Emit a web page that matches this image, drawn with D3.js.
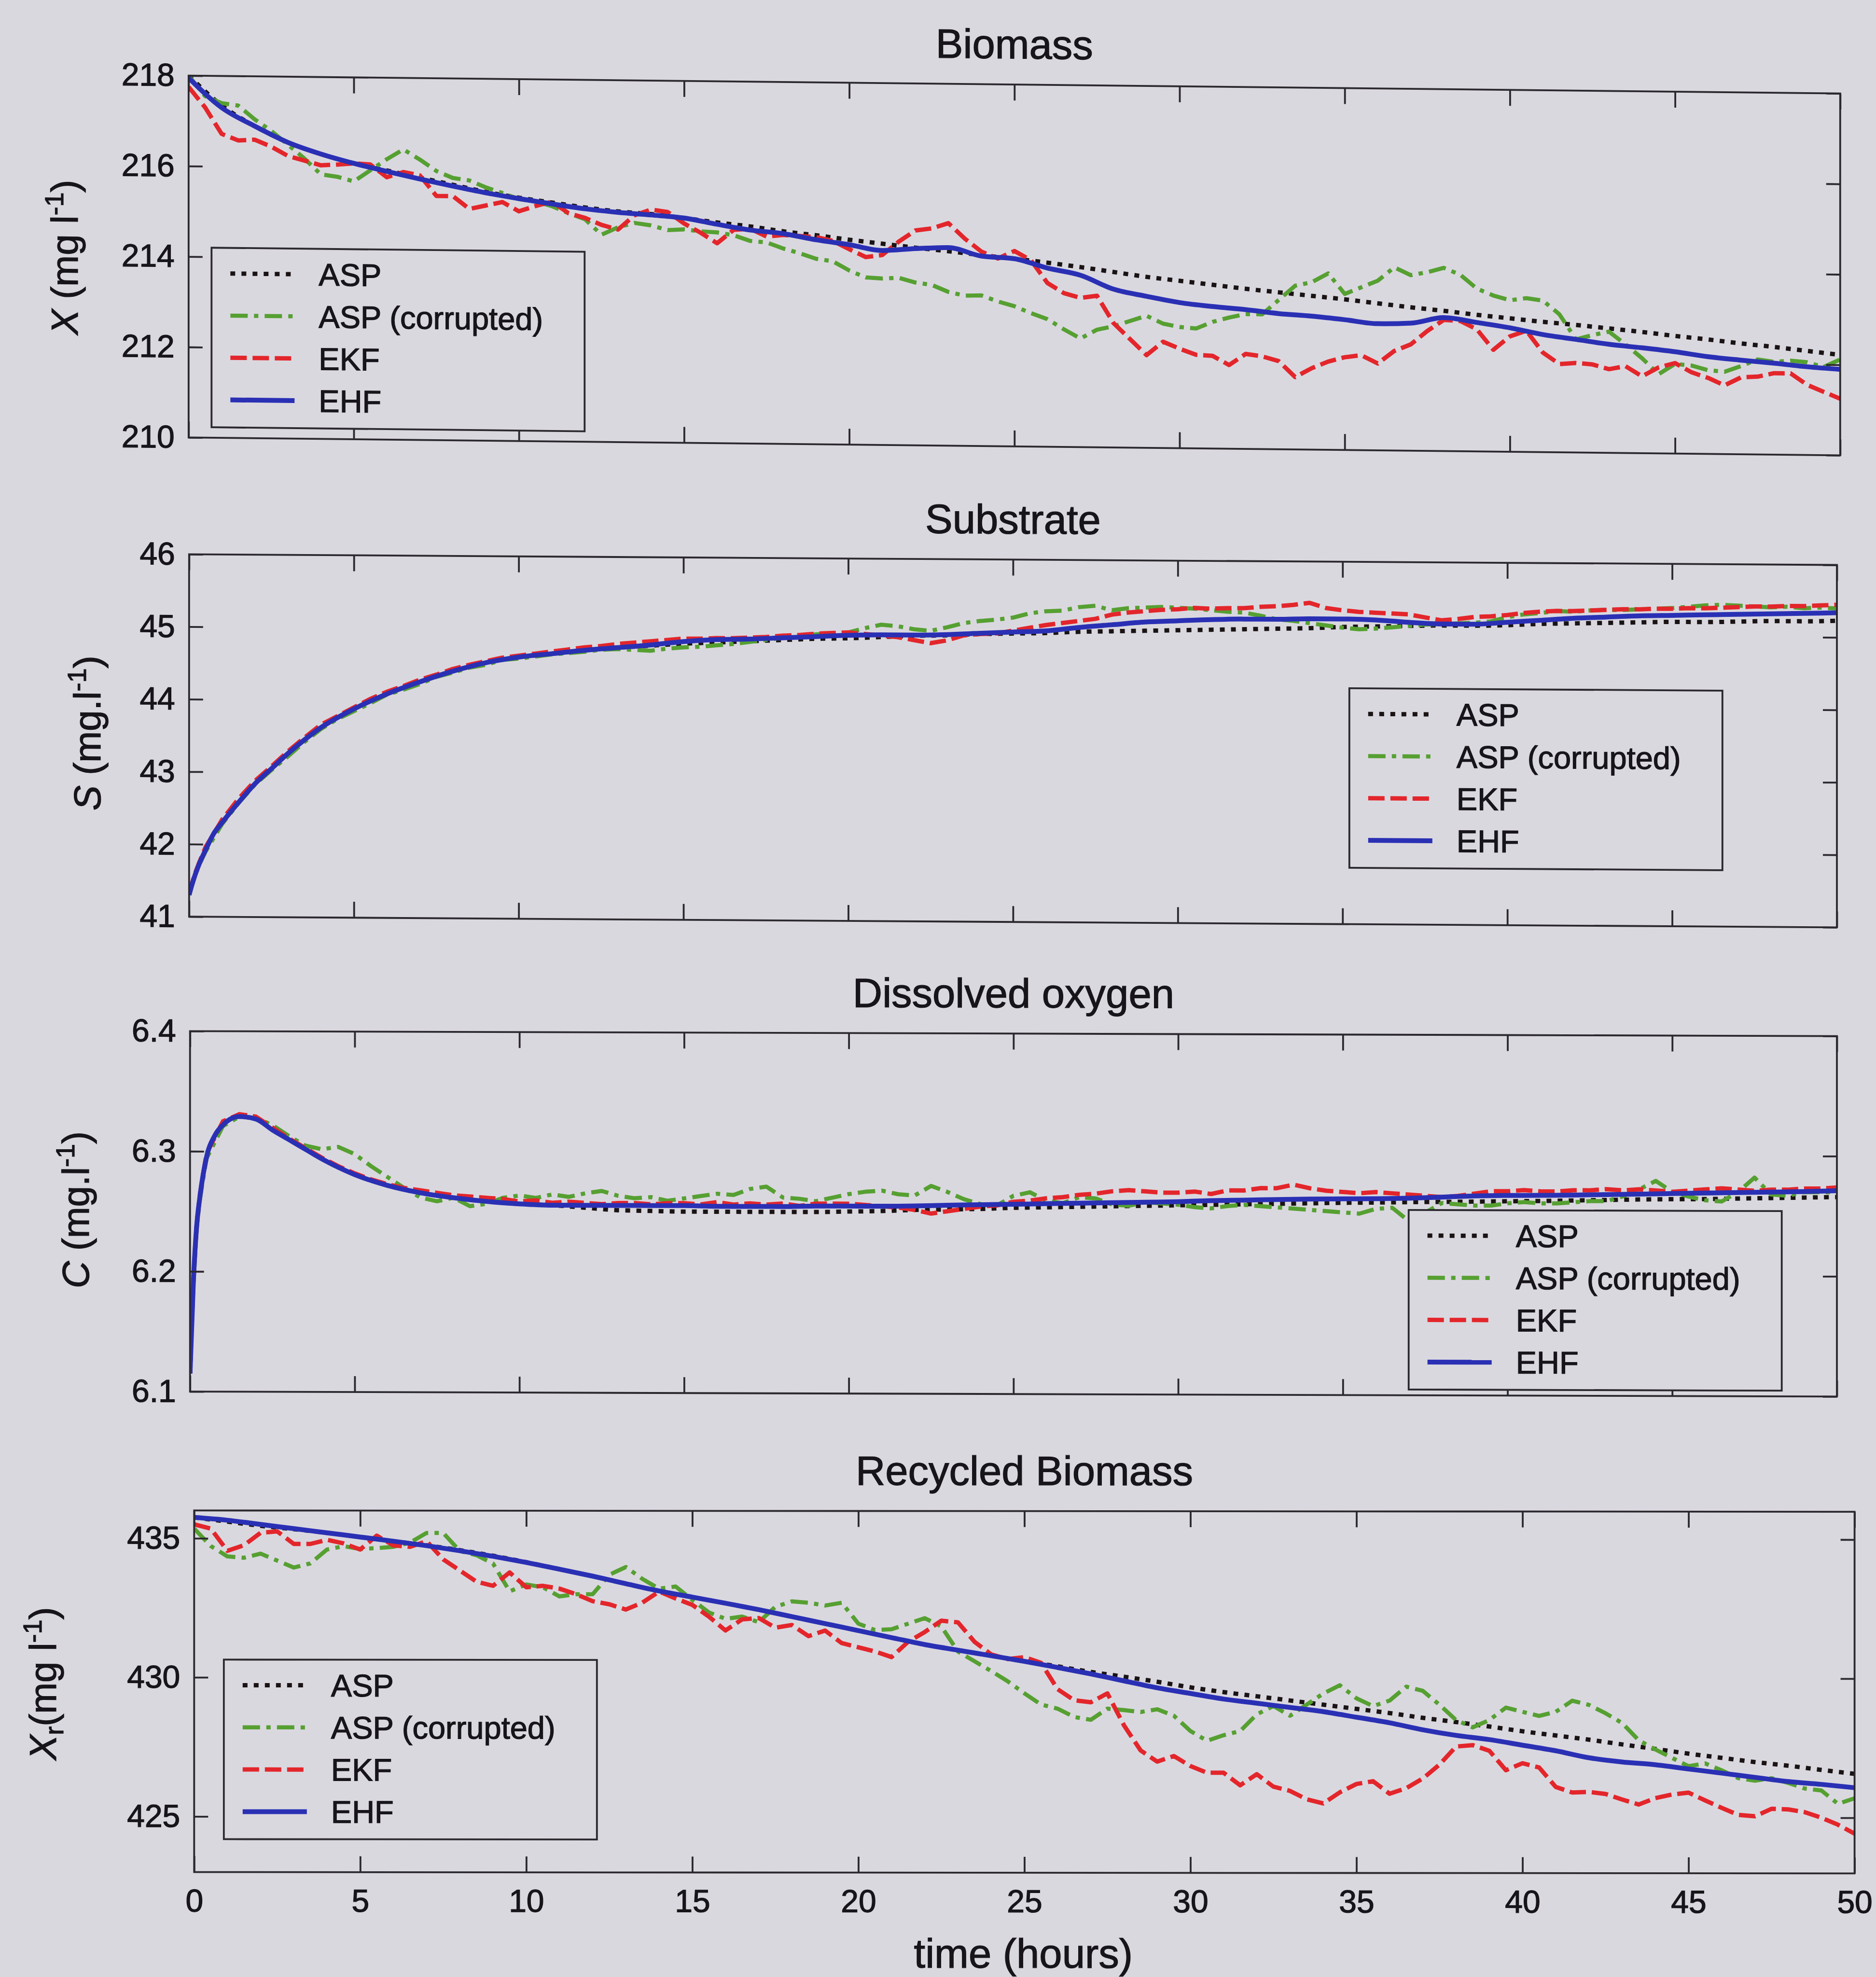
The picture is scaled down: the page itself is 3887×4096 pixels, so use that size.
<!DOCTYPE html>
<html>
<head>
<meta charset="utf-8">
<title>ASP state estimation</title>
<script src="https://cdn.jsdelivr.net/npm/d3@7"></script>
<style>
  html, body { margin: 0; padding: 0; background: #dad8df; }
  svg { display: block; }
  text { font-family: "Liberation Sans", Arial, Helvetica, sans-serif; fill: #171519; stroke: #171519; stroke-width: 1.3px; }
</style>
</head>
<body>
<script>
//time grids (hours)
var tHour = d3.range(0, 51, 1);
var tHalf = d3.range(0, 50.5, 0.5);
var tFine = [0, 0.1, 0.2, 0.3, 0.5, 0.75, 1, 1.5, 2, 2.5, 3, 3.5, 4].concat(d3.range(5, 51, 1));
var tStart = [0, 0.1, 0.2, 0.3].concat(d3.range(0.5, 50.5, 0.5));

var xTicks = [0, 5, 10, 15, 20, 25, 30, 35, 40, 45, 50];
var seriesNames = ["ASP", "ASP (corrupted)", "EKF", "EHF"];
var titles = ["Biomass", "Substrate", "Dissolved oxygen", "Recycled Biomass"];

//biomass X (mg/l)
var biomassTicks = [210, 212, 214, 216, 218];
var biomassASP = [218.0, 217.35, 216.9, 216.55, 216.3, 216.1, 215.95, 215.8, 215.65, 215.5, 215.38,
  215.28, 215.18, 215.1, 215.05, 214.97, 214.88, 214.8, 214.7, 214.62, 214.53,
  214.45, 214.37, 214.3, 214.22, 214.15, 214.07, 213.98, 213.88, 213.78, 213.7,
  213.62, 213.54, 213.47, 213.4, 213.33, 213.25, 213.17, 213.1, 213.02, 212.95,
  212.88, 212.82, 212.75, 212.68, 212.6, 212.53, 212.45, 212.38, 212.3, 212.22];
var biomassCorrupted = [218.0, 217.55, 217.4, 217.35, 217.05, 216.8, 216.5, 216.2, 215.85, 215.8,
  215.7, 215.95, 216.2, 216.42, 216.2, 215.95, 215.8, 215.75, 215.6, 215.48,
  215.35, 215.3, 215.2, 215.05, 214.92, 214.58, 214.75, 214.85, 214.8, 214.7,
  214.72, 214.68, 214.66, 214.6, 214.48, 214.45, 214.32, 214.22, 214.1, 214.05,
  213.85, 213.7, 213.68, 213.7, 213.6, 213.55, 213.4, 213.32, 213.33, 213.2,
  213.1, 212.95, 212.82, 212.6, 212.4, 212.6, 212.68, 212.8, 212.92, 212.75,
  212.68, 212.65, 212.8, 212.9, 212.98, 212.98, 213.3, 213.62, 213.7, 213.9,
  213.45, 213.6, 213.75, 214.05, 213.88, 213.95, 214.05, 213.9, 213.6, 213.45,
  213.35, 213.4, 213.35, 213.05, 212.5, 212.6, 212.68, 212.4, 212.1, 211.75,
  211.98, 211.95, 211.85, 211.82, 211.95, 212.1, 212.05, 212.08, 212.05, 211.95, 212.12];
var biomassEKF = [217.75, 217.3, 216.72, 216.58, 216.6, 216.45, 216.25, 216.15, 216.05, 216.07,
  216.1, 216.08, 215.8, 215.92, 215.85, 215.4, 215.4, 215.12, 215.2, 215.28,
  215.08, 215.2, 215.3, 215.05, 214.95, 214.8, 214.7, 215.02, 215.15, 215.1,
  214.85, 214.65, 214.42, 214.72, 214.75, 214.58, 214.62, 214.6, 214.58, 214.5,
  214.32, 214.15, 214.2, 214.5, 214.75, 214.8, 214.92, 214.58, 214.3, 214.15,
  214.32, 214.12, 213.62, 213.4, 213.3, 213.35, 212.75, 212.4, 212.05, 212.35,
  212.2, 212.07, 212.05, 211.85, 212.1, 212.05, 211.95, 211.6, 211.8, 211.95,
  212.05, 212.1, 211.92, 212.2, 212.35, 212.65, 212.9, 212.88, 212.7, 212.25,
  212.55, 212.68, 212.2, 211.95, 211.98, 211.95, 211.85, 211.92, 211.7, 211.9,
  212.0, 211.8, 211.68, 211.52, 211.7, 211.72, 211.8, 211.8, 211.55, 211.4, 211.25];
var biomassEHF = [217.95, 217.3, 216.9, 216.55, 216.3, 216.1, 215.93, 215.77, 215.62, 215.48, 215.36,
  215.25, 215.15, 215.08, 215.03, 214.97, 214.84, 214.72, 214.65, 214.52, 214.42,
  214.3, 214.35, 214.38, 214.2, 214.15, 213.95, 213.8, 213.5, 213.35, 213.22,
  213.14, 213.08, 213.0, 212.95, 212.88, 212.8, 212.82, 212.95, 212.85, 212.74,
  212.6, 212.5, 212.4, 212.33, 212.25, 212.15, 212.08, 212.02, 211.95, 211.9];

//substrate S (mg/l)
var substrateTicks = [41, 42, 43, 44, 45, 46];
var substrateASP = [41.3, 41.46, 41.6, 41.72, 41.92, 42.15, 42.3, 42.58, 42.84, 43.05, 43.26, 43.45, 43.62,
  43.88, 44.09, 44.26, 44.41, 44.53, 44.61, 44.66, 44.71, 44.75, 44.78,
  44.81, 44.83, 44.85, 44.87, 44.89, 44.9, 44.92, 44.94, 44.95, 44.97,
  44.98, 44.99, 45.01, 45.02, 45.03, 45.04, 45.05, 45.06, 45.07, 45.08,
  45.1, 45.11, 45.12, 45.13, 45.13, 45.14, 45.16, 45.17, 45.18, 45.19,
  45.2, 45.2, 45.21, 45.22, 45.22, 45.23];
var substrateCorrupted = [41.3, 41.45, 41.59, 41.71, 41.9, 42.28, 42.57, 42.83, 43.03, 43.22, 43.42, 43.6, 43.74,
  43.85, 43.96, 44.08, 44.15, 44.23, 44.33, 44.39, 44.46, 44.5, 44.57, 44.59, 44.62, 44.65, 44.67, 44.69, 44.72,
  44.73, 44.72, 44.71, 44.74, 44.76, 44.77, 44.79, 44.81, 44.84, 44.87,
  44.9, 44.93, 44.95, 44.97, 44.98, 45.04, 45.09, 45.07, 45.03, 45.01,
  45.06, 45.12, 45.15, 45.17, 45.2, 45.26, 45.29, 45.3, 45.35, 45.37,
  45.31, 45.34, 45.35, 45.36, 45.35, 45.34, 45.32, 45.3, 45.29, 45.25,
  45.2, 45.18, 45.15, 45.12, 45.09, 45.07, 45.08, 45.1, 45.12, 45.14,
  45.15, 45.16, 45.17, 45.19, 45.25, 45.29, 45.31, 45.34, 45.33, 45.35,
  45.36, 45.36, 45.37, 45.38, 45.39, 45.41, 45.43, 45.44, 45.43, 45.42,
  45.41, 45.42, 45.4, 45.41, 45.4];
var substrateEKF = [41.32, 41.48, 41.62, 41.74, 41.96, 42.34, 42.63, 42.88, 43.08, 43.29, 43.48, 43.66, 43.78,
  43.9, 44.02, 44.12, 44.2, 44.29, 44.36, 44.44, 44.5, 44.55, 44.6, 44.63, 44.66, 44.69, 44.72, 44.75,
  44.77, 44.8, 44.82, 44.84, 44.86, 44.88, 44.88, 44.89, 44.89, 44.9,
  44.91, 44.93, 44.94, 44.96, 44.97, 44.98, 44.96, 44.94, 44.92, 44.88,
  44.84, 44.88, 44.95, 44.97, 44.98, 45.02, 45.06, 45.1, 45.13, 45.16,
  45.19, 45.25, 45.28, 45.3, 45.32, 45.33, 45.35, 45.34, 45.35, 45.35,
  45.37, 45.38, 45.4, 45.43, 45.36, 45.33, 45.31, 45.3, 45.29, 45.28,
  45.24, 45.2, 45.22, 45.25, 45.26, 45.28, 45.31, 45.33, 45.34, 45.34,
  45.35, 45.36, 45.37, 45.37, 45.38, 45.38, 45.39, 45.39, 45.4, 45.41,
  45.42, 45.42, 45.43, 45.43, 45.44, 45.45];
var substrateEHF = [41.3, 41.46, 41.6, 41.72, 41.92, 42.15, 42.3, 42.58, 42.84, 43.05, 43.26, 43.45, 43.62,
  43.88, 44.09, 44.26, 44.41, 44.53, 44.61, 44.66, 44.71, 44.75, 44.79,
  44.84, 44.87, 44.88, 44.9, 44.92, 44.94, 44.95, 44.95, 44.96, 44.98,
  45.0, 45.02, 45.07, 45.11, 45.15, 45.17, 45.19, 45.2, 45.2, 45.21,
  45.21, 45.2, 45.17, 45.15, 45.15, 45.18, 45.21, 45.24, 45.26, 45.28,
  45.29, 45.3, 45.31, 45.32, 45.33, 45.34];

//dissolved oxygen C (mg/l)
var oxygenTicks = [6.1, 6.2, 6.3, 6.4];
var oxygenASP = [6.115, 6.19, 6.237, 6.262, 6.295, 6.313, 6.322, 6.329, 6.327, 6.318, 6.31, 6.302, 6.294,
  6.281, 6.272, 6.266, 6.262, 6.259, 6.257, 6.256, 6.254, 6.252, 6.2515,
  6.251, 6.251, 6.251, 6.251, 6.251, 6.2515, 6.252, 6.253, 6.2535, 6.254,
  6.255, 6.2555, 6.256, 6.2565, 6.257, 6.2575, 6.258, 6.2585, 6.259, 6.2595,
  6.26, 6.2603, 6.2607, 6.261, 6.2613, 6.2617, 6.262, 6.2625, 6.263, 6.2635,
  6.2638, 6.264, 6.2645, 6.265, 6.2655, 6.266];
var oxygenCorrupted = [6.115, 6.188, 6.235, 6.26, 6.294, 6.321, 6.329, 6.328, 6.322, 6.313, 6.305, 6.302, 6.304,
  6.298, 6.288, 6.279, 6.27, 6.262, 6.259, 6.262, 6.255, 6.257, 6.262,
  6.264, 6.262, 6.265, 6.263, 6.266, 6.268, 6.264, 6.262, 6.263, 6.26,
  6.262, 6.264, 6.266, 6.265, 6.27, 6.272, 6.263, 6.262, 6.26, 6.263,
  6.266, 6.268, 6.269, 6.266, 6.265, 6.273, 6.268, 6.262, 6.258, 6.257,
  6.265, 6.268, 6.261, 6.259, 6.264, 6.263, 6.258, 6.257, 6.26, 6.259,
  6.258, 6.256, 6.255, 6.257, 6.258, 6.257, 6.256, 6.255, 6.254, 6.253,
  6.252, 6.251, 6.255, 6.256, 6.245, 6.252, 6.26, 6.259, 6.258, 6.258,
  6.26, 6.261, 6.26, 6.26, 6.261, 6.262, 6.262, 6.266, 6.272, 6.279,
  6.27, 6.266, 6.263, 6.262, 6.27, 6.282, 6.268, 6.267, 6.27, 6.27, 6.27];
var oxygenEKF = [6.115, 6.19, 6.238, 6.264, 6.298, 6.325, 6.331, 6.329, 6.32, 6.311, 6.303, 6.295, 6.288,
  6.282, 6.277, 6.273, 6.27, 6.268, 6.266, 6.264, 6.263, 6.262, 6.261,
  6.259, 6.26, 6.258, 6.259, 6.258, 6.257, 6.258, 6.258, 6.257, 6.258,
  6.258, 6.257, 6.259, 6.257, 6.258, 6.257, 6.258, 6.256, 6.258, 6.258,
  6.258, 6.257, 6.256, 6.255, 6.253, 6.25, 6.252, 6.254, 6.256, 6.257,
  6.26, 6.261, 6.263, 6.264, 6.266, 6.267, 6.269, 6.27, 6.269, 6.268,
  6.268, 6.269, 6.267, 6.27, 6.27, 6.272, 6.272, 6.275, 6.272, 6.27,
  6.269, 6.268, 6.269, 6.268, 6.267, 6.266, 6.265, 6.266, 6.268, 6.27,
  6.27, 6.271, 6.27, 6.27, 6.271, 6.271, 6.272, 6.271, 6.272, 6.271,
  6.27, 6.271, 6.272, 6.273, 6.272, 6.271, 6.272, 6.272, 6.273, 6.273, 6.274];
var oxygenEHF = [6.115, 6.19, 6.237, 6.262, 6.295, 6.313, 6.322, 6.329, 6.327, 6.318, 6.31, 6.302, 6.294,
  6.281, 6.272, 6.266, 6.262, 6.259, 6.257, 6.256, 6.256, 6.256, 6.256,
  6.256, 6.2555, 6.2555, 6.2555, 6.256, 6.256, 6.256, 6.2563, 6.257, 6.2575,
  6.258, 6.2585, 6.259, 6.2595, 6.26, 6.2605, 6.2615, 6.262, 6.2625, 6.263,
  6.2633, 6.2635, 6.264, 6.265, 6.266, 6.2665, 6.2667, 6.267, 6.2675, 6.268,
  6.2685, 6.269, 6.2695, 6.27, 6.2705, 6.2713];

//recycled biomass Xr (mg/l)
var recycledTicks = [425, 430, 435];
var recycledASP = [435.75, 435.6, 435.45, 435.33, 435.2, 435.05, 434.9, 434.75, 434.58, 434.38, 434.15,
  433.9, 433.65, 433.38, 433.12, 432.9, 432.68, 432.45, 432.2, 431.95, 431.7,
  431.45, 431.2, 431.0, 430.8, 430.6, 430.42, 430.22, 430.05, 429.87, 429.67,
  429.5, 429.35, 429.2, 429.05, 428.9, 428.75, 428.58, 428.43, 428.27, 428.1,
  427.95, 427.8, 427.63, 427.47, 427.3, 427.15, 427.0, 426.87, 426.72, 426.58];
var recycledCorrupted = [435.35, 434.72, 434.35, 434.3, 434.45, 434.2, 433.95, 434.1, 434.6, 434.72,
  434.62, 434.65, 434.7, 434.85, 435.2, 435.2, 434.55, 434.4, 434.1, 433.1,
  433.35, 433.25, 432.92, 433.0, 433.0, 433.7, 433.98, 433.55, 433.2, 433.28,
  432.8, 432.35, 432.12, 432.2, 432.0, 432.55, 432.75, 432.7, 432.6, 432.7,
  431.95, 431.72, 431.75, 431.95, 432.15, 431.85, 430.95, 430.6, 430.25, 429.88,
  429.45, 429.05, 428.9, 428.6, 428.5, 428.9, 428.85, 428.78, 428.88, 428.65,
  428.1, 427.75, 427.95, 428.1, 428.7, 429.0, 428.65, 429.05, 429.45, 429.75,
  429.28, 429.0, 429.2, 429.7, 429.55, 429.05, 428.5, 428.24, 428.5, 428.95,
  428.8, 428.65, 428.8, 429.2, 429.05, 428.75, 428.4, 427.78, 427.45, 427.15,
  426.85, 426.95, 426.7, 426.42, 426.33, 426.42, 426.25, 426.05, 425.98, 425.5, 425.7];
var recycledEKF = [435.5, 435.35, 434.55, 434.75, 435.2, 435.25, 434.8, 434.8, 434.95, 434.82,
  434.6, 435.1, 434.75, 434.7, 434.9, 434.25, 433.85, 433.45, 433.3, 433.78,
  433.25, 433.3, 433.2, 433.0, 432.75, 432.64, 432.45, 432.7, 433.1, 432.85,
  432.62, 432.2, 431.7, 432.1, 432.15, 431.8, 431.9, 431.5, 431.7, 431.25,
  431.1, 430.95, 430.75, 431.3, 431.65, 432.06, 432.0, 431.3, 430.85, 430.68,
  430.75, 430.55, 429.6, 429.2, 429.13, 429.45, 428.3, 427.4, 427.0, 427.2,
  426.84, 426.6, 426.6, 426.15, 426.55, 426.1, 425.95, 425.65, 425.5, 425.9,
  426.2, 426.3, 425.85, 426.05, 426.4, 426.9, 427.55, 427.6, 427.4, 426.7,
  426.95, 426.8, 426.1, 425.9, 425.92, 425.85, 425.65, 425.47, 425.7, 425.83,
  425.9, 425.62, 425.35, 425.1, 425.05, 425.32, 425.3, 425.2, 425.0, 424.75, 424.43];
var recycledEHF = [435.75, 435.65, 435.5, 435.35, 435.2, 435.05, 434.9, 434.74, 434.56, 434.36, 434.14,
  433.9, 433.65, 433.38, 433.12, 432.9, 432.68, 432.45, 432.2, 431.95, 431.7,
  431.45, 431.2, 431.0, 430.8, 430.6, 430.38, 430.15, 429.9, 429.65, 429.45,
  429.25, 429.1, 428.95, 428.8, 428.6, 428.4, 428.15, 427.95, 427.8, 427.6,
  427.4, 427.15, 427.0, 426.9, 426.75, 426.6, 426.45, 426.3, 426.2, 426.08];

//page
var width = 3887,
    height = 4096;
var bg = "#dad8df";

var svg = d3.select("body")
  .append("svg")
  .attr("width", width)
  .attr("height", height);

svg.append("rect")
  .attr("width", width)
  .attr("height", height)
  .attr("fill", bg);

//line styles, in legend order
var styles = [
  {color: "#1a1314", width: 9, dash: "10,13"},
  {color: "#56a032", width: 8.5, dash: "36,13,9,13"},
  {color: "#e3262b", width: 9, dash: "34,12"},
  {color: "#2a30b4", width: 10, dash: null}
];

//panel frames (the scan is slightly tilted, hence the skew per panel)
var panels = [
  {left: 390.8, top: 156.7, w: 3422, h: 749.7, skew: 0.0108,
   domain: [210, 218], ticks: biomassTicks, fmt: "d",
   series: [[tHour, biomassASP], [tHalf, biomassCorrupted], [tHalf, biomassEKF], [tHour, biomassEHF]],
   label: [["X", "i"], [" (mg l", ""], ["-1", "sup"], [")", ""]], labelX: -230, labelY: 379,
   legend: [47.5, 356]},
  {left: 391.8, top: 1148.3, w: 3414.2, h: 750.8, skew: 0.0065,
   domain: [41, 46], ticks: substrateTicks, fmt: "d",
   series: [[tFine, substrateASP], [tStart, substrateCorrupted], [tStart, substrateEKF], [tFine, substrateEHF]],
   label: [["S", "i"], [" (mg.l", ""], ["-1", "sup"], [")", ""]], labelX: -184, labelY: 372,
   legend: [2404, 262]},
  {left: 393.7, top: 2136.3, w: 3412.3, h: 746.8, skew: 0.003,
   domain: [6.1, 6.4], ticks: oxygenTicks, fmt: ".1f",
   series: [[tFine, oxygenASP], [tStart, oxygenCorrupted], [tStart, oxygenEKF], [tFine, oxygenEHF]],
   label: [["C", "i"], [" (mg.l", ""], ["-1", "sup"], [")", ""]], labelX: -210, labelY: 371,
   legend: [2525, 363]},
  {left: 402.3, top: 3129.4, w: 3440.3, h: 749.2, skew: 0.0008,
   domain: [423, 436], ticks: recycledTicks, fmt: "d",
   series: [[tHour, recycledASP], [tHalf, recycledCorrupted], [tHalf, recycledEKF], [tHour, recycledEHF]],
   label: [["X", "i"], ["r", "sub"], ["(mg l", ""], ["-1", "sup"], [")", ""]], labelX: -286, labelY: 359,
   legend: [61.5, 309], xLabels: true}
];

panels.forEach(function(p, i){
  var g = svg.append("g")
    .attr("transform", "translate(" + p.left + "," + p.top + ") skewY(" + (Math.atan(p.skew) * 180 / Math.PI) + ")");

  var x = d3.scaleLinear().domain([0, 50]).range([0, p.w]);
  var y = d3.scaleLinear().domain(p.domain).range([p.h, 0]);

  g.append("clipPath")
    .attr("id", "clip" + i)
    .append("rect")
    .attr("width", p.w)
    .attr("height", p.h);

  //data lines: ASP, corrupted, EKF, EHF (EHF drawn last, on top)
  p.series.forEach(function(s, j){
    var pts = s[0].map(function(t, k){ return [t, s[1][k]]; });
    var smooth = (s[0].length < 70);
    var line = d3.line()
      .x(function(d){ return x(d[0]); })
      .y(function(d){ return y(d[1]); })
      .curve(smooth ? d3.curveMonotoneX : d3.curveLinear);
    g.append("path")
      .datum(pts)
      .attr("clip-path", "url(#clip" + i + ")")
      .attr("fill", "none")
      .attr("stroke", styles[j].color)
      .attr("stroke-width", styles[j].width)
      .attr("stroke-dasharray", styles[j].dash)
      .attr("stroke-linejoin", "round")
      .attr("d", line);
  });

  //ticks on all four sides, pointing inwards
  var bottom = g.append("g")
    .attr("transform", "translate(0," + p.h + ")")
    .call(d3.axisBottom(x).tickValues(xTicks).tickSize(-33).tickPadding(35)
      .tickFormat(p.xLabels ? d3.format("d") : ""));
  g.append("g")
    .call(d3.axisTop(x).tickValues(xTicks).tickSize(-33).tickFormat(""));
  var left = g.append("g")
    .call(d3.axisLeft(y).tickValues(p.ticks).tickSize(-29).tickPadding(29).tickFormat(d3.format(p.fmt)));
  g.append("g")
    .attr("transform", "translate(" + p.w + ",0)")
    .call(d3.axisRight(y).tickValues(p.ticks).tickSize(-29).tickFormat(""));

  g.selectAll(".domain").remove();
  g.selectAll(".tick line").attr("stroke", "#2b292d").attr("stroke-width", 3.8);
  g.selectAll(".tick text").attr("fill", "#171519");
  bottom.attr("font-size", 66);
  left.attr("font-size", 66);

  //axes box
  g.append("rect")
    .attr("width", p.w)
    .attr("height", p.h)
    .attr("fill", "none")
    .attr("stroke", "#2b292d")
    .attr("stroke-width", 3.8);

  //title
  g.append("text")
    .attr("x", p.w / 2)
    .attr("y", -54)
    .attr("text-anchor", "middle")
    .attr("font-size", 85)
    .text(titles[i]);

  //y label
  var yl = g.append("text")
    .attr("transform", "translate(" + p.labelX + "," + p.labelY + ") rotate(-90)")
    .attr("text-anchor", "middle")
    .attr("font-size", 78);
  var shift = 0;
  p.label.forEach(function(part){
    var ts = yl.append("tspan").text(part[0]);
    var want = 0;
    if (part[1] === "i") ts.attr("font-style", "italic");
    if (part[1] === "sup") { ts.attr("font-size", 54); want = -30; }
    if (part[1] === "sub") { ts.attr("font-size", 54); want = 15; }
    ts.attr("dy", want - shift);
    shift = want;
  });

  //legend
  var lg = g.append("g")
    .attr("transform", "translate(" + p.legend[0] + "," + p.legend[1] + ")");
  lg.append("rect")
    .attr("width", 773)
    .attr("height", 372)
    .attr("fill", bg)
    .attr("stroke", "#2b292d")
    .attr("stroke-width", 3.8);
  seriesNames.forEach(function(name, j){
    var ry = 53 + j * 87.3;
    lg.append("line")
      .attr("x1", 39).attr("x2", 172)
      .attr("y1", ry).attr("y2", ry)
      .attr("stroke", styles[j].color)
      .attr("stroke-width", styles[j].width)
      .attr("stroke-dasharray", styles[j].dash);
    lg.append("text")
      .attr("x", 222)
      .attr("y", ry + 23)
      .attr("font-size", 65)
      .text(name);
  });

  if (p.xLabels) {
    g.append("text")
      .attr("x", 1718)
      .attr("y", 946)
      .attr("text-anchor", "middle")
      .attr("font-size", 85)
      .text("time (hours)");
  }
});
</script>
</body>
</html>
